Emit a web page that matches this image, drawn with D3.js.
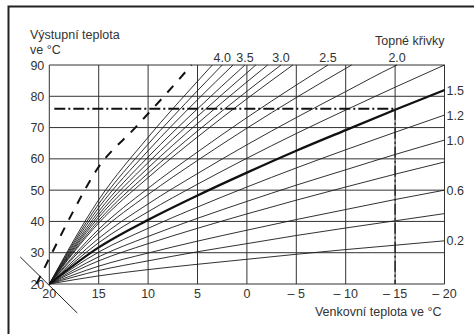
<!DOCTYPE html>
<html>
<head>
<meta charset="utf-8">
<script src="https://cdn.jsdelivr.net/npm/d3@7"></script>
<style>
    body { margin: 0; background: #fff; }
    svg text { font-family: "Liberation Sans", Arial, sans-serif; font-size: 12.5px; fill: #333; }
</style>
</head>
<body>
<div class="heizkurven"></div>
<script>
// axis values
var outdoorTicks = [20, 15, 10, 5, 0, -5, -10, -15, -20];
var outdoorTickLabels = ["20", "15", "10", "5", "0", "– 5", "– 10", "– 15", "– 20"];
var flowTicks = [20, 30, 40, 50, 60, 70, 80, 90];

// heating curves: [outdoor temp, flow temp]
var curve02 = [[20, 20], [15, 22.6], [10, 24.6], [5, 26.3], [0, 27.9], [-5, 29.5], [-10, 31.0], [-15, 32.4], [-20, 33.8]];
var curve04 = [[20, 20], [15, 24.3], [10, 27.4], [5, 30.3], [0, 32.9], [-5, 35.5], [-10, 37.9], [-15, 40.2], [-20, 42.5]];
var curve06 = [[20, 20], [15, 25.7], [10, 29.9], [5, 33.7], [0, 37.2], [-5, 40.6], [-10, 43.8], [-15, 47.0], [-20, 50]];
var curve08 = [[20, 20], [15, 27.4], [10, 32.9], [5, 37.8], [0, 42.4], [-5, 46.8], [-10, 51.0], [-15, 55.1], [-20, 59]];
var curve10 = [[20, 20], [15, 28.7], [10, 35.2], [5, 41.0], [0, 46.4], [-5, 51.6], [-10, 56.5], [-15, 61.4], [-20, 66]];
var curve12 = [[20, 20], [15, 30.2], [10, 37.8], [5, 44.6], [0, 51.0], [-5, 57.1], [-10, 62.9], [-15, 68.5], [-20, 74]];
var curve15 = [[20, 20], [15, 31.7], [10, 40.5], [5, 48.3], [0, 55.6], [-5, 62.6], [-10, 69.2], [-15, 75.7], [-20, 82]];
var curve18 = [[20, 20], [15, 33.2], [10, 43.1], [5, 51.9], [0, 60.2], [-5, 68.1], [-10, 75.6], [-15, 82.9], [-20, 90]];
var curve20 = [[20, 20], [15, 34.6], [10, 45.6], [5, 55.3], [0, 64.5], [-5, 73.2], [-10, 81.5], [-15, 89.7], [-15.2, 90]];
var curve22 = [[20, 20], [15, 36.4], [10, 48.6], [5, 59.5], [0, 69.8], [-5, 79.6], [-10.6, 90]];
var curve25 = [[20, 20], [15, 37.5], [10, 50.6], [5, 62.2], [0, 73.2], [-5, 83.6], [-8.2, 90]];
var curve27 = [[20, 20], [15, 39.5], [10, 54.0], [5, 67.0], [0, 79.2], [-4.65, 90]];
var curve30 = [[20, 20], [15, 40.3], [10, 55.4], [5, 68.9], [0, 81.6], [-3.45, 90]];
var curve32 = [[20, 20], [15, 41.3], [10, 57.1], [5, 71.3], [0, 84.6], [-2.1, 90]];
var curve33 = [[20, 20], [15, 42.2], [10, 58.8], [5, 73.6], [0, 87.5], [-0.9, 90]];
var curve35 = [[20, 20], [15, 43.2], [10, 60.6], [5, 76.0], [0.2, 90]];
var curve37 = [[20, 20], [15, 44.4], [10, 62.6], [5, 78.9], [1.4, 90]];
var curve40 = [[20, 20], [15, 45.6], [10, 64.7], [5, 81.8], [2.5, 90]];
var curve42 = [[20, 20], [15, 46.9], [10, 66.9], [5, 84.8], [3.5, 90]];

var sideLabels = ["1.5", "1.2", "1.0", "0.6", "0.2"];
var sideCurves = [curve15, curve12, curve10, curve06, curve02];
var topLabels = ["4.0", "3.5", "3.0", "2.5", "2.0"];
var topCurves = [curve40, curve35, curve30, curve25, curve20];

// dashed limit line
var limitLine = [[21.3, 20], [19.8, 29.5], [17.7, 42.5], [15.2, 56.5], [11.2, 70.3], [8.2, 80.7], [5.6, 90]];

// worked example: -15 °C outside -> 76 °C flow
var exampleOutdoor = -15;
var exampleFlow = 76;

var allCurves = [curve02, curve04, curve06, curve08, curve10, curve12, curve18, curve20, curve22,
    curve25, curve27, curve30, curve32, curve33, curve35, curve37, curve40, curve42];

function heizkurven() {

    var W = 474, H = 334;
    var margin = { top: 65, right: 29.5, bottom: 50, left: 49.3 };
    var width = W - margin.left - margin.right,
        height = H - margin.top - margin.bottom;

    var svg = d3.select('.heizkurven')
        .append('svg')
        .attr("width", W)
        .attr("height", H);

    // outer frame (left + top edge only)
    svg.append("path")
        .attr("d", "M8.5," + H + "V6.5H" + W)
        .attr("fill", "none")
        .attr("stroke", "#222")
        .attr("stroke-width", 2);

    var g = svg.append("g")
        .attr("transform", "translate(" + margin.left + "," + margin.top + ")");

    var x = d3.scaleLinear().domain([20, -20]).range([0, width]);
    var y = d3.scaleLinear().domain([20, 90]).range([height, 0]);

    // grid
    g.selectAll(".vgrid")
        .data(outdoorTicks)
        .enter().append("line")
        .attr("x1", function(d) { return x(d); })
        .attr("x2", function(d) { return x(d); })
        .attr("y1", 0)
        .attr("y2", height)
        .attr("stroke", "#333")
        .attr("stroke-width", 1);

    g.selectAll(".hgrid")
        .data(flowTicks)
        .enter().append("line")
        .attr("x1", 0)
        .attr("x2", width)
        .attr("y1", function(d) { return y(d); })
        .attr("y2", function(d) { return y(d); })
        .attr("stroke", "#333")
        .attr("stroke-width", 1);

    // axes labels
    g.selectAll(".xlab")
        .data(outdoorTicks)
        .enter().append("text")
        .attr("x", function(d) { return x(d); })
        .attr("y", height + 14)
        .attr("text-anchor", "middle")
        .text(function(d, i) { return outdoorTickLabels[i]; });

    g.selectAll(".ylab")
        .data(flowTicks)
        .enter().append("text")
        .attr("x", -5)
        .attr("y", function(d) { return y(d); })
        .attr("dy", "0.36em")
        .attr("text-anchor", "end")
        .text(function(d) { return d; });

    var line = d3.line()
        .curve(d3.curveMonotoneX)
        .x(function(d) { return x(d[0]); })
        .y(function(d) { return y(d[1]); });

    g.selectAll(".curve")
        .data(allCurves)
        .enter().append("path")
        .attr("d", line)
        .attr("fill", "none")
        .attr("stroke", "#1a1a1a")
        .attr("stroke-width", 0.9);

    g.append("path")
        .datum(curve15)
        .attr("d", line)
        .attr("fill", "none")
        .attr("stroke", "#111")
        .attr("stroke-width", 2.3);

    g.append("path")
        .datum(limitLine)
        .attr("d", line)
        .attr("fill", "none")
        .attr("stroke", "#111")
        .attr("stroke-width", 2)
        .attr("stroke-dasharray", "9 9");

    // example reading
    g.append("line")
        .attr("x1", x(20) + 5)
        .attr("x2", x(exampleOutdoor))
        .attr("y1", y(exampleFlow))
        .attr("y2", y(exampleFlow))
        .attr("stroke", "#111")
        .attr("stroke-width", 2)
        .attr("stroke-dasharray", "11 3 2 3");

    g.append("line")
        .attr("x1", x(exampleOutdoor))
        .attr("x2", x(exampleOutdoor))
        .attr("y1", y(exampleFlow))
        .attr("y2", y(20))
        .attr("stroke", "#222")
        .attr("stroke-width", 1.4)
        .attr("stroke-dasharray", "11 3 2 3");

    // axis break mark
    g.append("line")
        .attr("x1", x(20) - 29)
        .attr("y1", y(20) - 27)
        .attr("x2", x(20) + 28)
        .attr("y2", y(20) + 29)
        .attr("stroke", "#222")
        .attr("stroke-width", 1);

    // curve labels
    g.selectAll(".sidelab")
        .data(sideCurves)
        .enter().append("text")
        .attr("x", width + 2)
        .attr("y", function(d) { return y(d[d.length - 1][1]); })
        .attr("dy", "0.36em")
        .text(function(d, i) { return sideLabels[i]; });

    g.selectAll(".toplab")
        .data(topCurves)
        .enter().append("text")
        .attr("x", function(d) { return x(d[d.length - 1][0]); })
        .attr("y", -3)
        .attr("text-anchor", "middle")
        .text(function(d, i) { return topLabels[i]; });

    // titles
    svg.append("text").attr("x", 30).attr("y", 39).text("Výstupní teplota");
    svg.append("text").attr("x", 30).attr("y", 54).text("ve °C");
    svg.append("text").attr("x", margin.left + width).attr("y", 45)
        .attr("text-anchor", "end").text("Topné křivky");
    svg.append("text").attr("x", margin.left + width - 3).attr("y", 316)
        .attr("text-anchor", "end").text("Venkovní teplota ve °C");
}

heizkurven();
</script>
</body>
</html>
